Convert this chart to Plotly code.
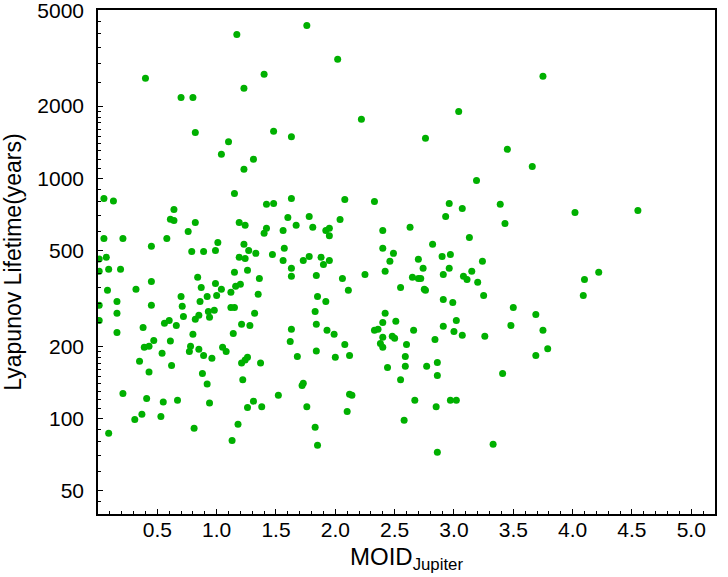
import numpy as np
import plotly.graph_objects as go

# MOID with Jupiter (au) and Lyapunov lifetime (years)
moid_jupiter = [
    1.17, 0.40, 1.23, 0.70, 0.80, 0.82, 1.10, 1.04, 1.31, 1.23,
    1.76, 2.02, 1.40, 2.22, 1.48, 1.63, 3.75, 3.04, 2.76, 3.45,
    3.66, 3.19, 0.05, 0.13, 1.15, 0.64, 0.61, 0.64, 0.82, 1.19,
    1.24, 0.76, 0.05, 0.21, 0.58, 0.45, 1.01, 1.23, 0.79, 0.89,
    0.99, 1.27, 1.33, 0.01, 0.07, 1.19, 1.24, 0.01, 0.09, 0.19,
    1.15, 1.26, 0.84, 0.45, 0.87, 0.99, 1.04, 1.16, 1.20, 0.08,
    0.32, 1.12, 0.70, 0.92, 1.00, 0.16, 0.86, 0.01, 0.45, 0.71,
    1.12, 1.15, 0.93, 0.98, 0.94, 0.16, 0.72, 0.85, 0.82, 1.32,
    0.01, 0.56, 0.60, 0.66, 1.21, 1.28, 0.38, 0.16, 1.14, 0.80,
    0.47, 0.61, 0.39, 0.43, 0.78, 0.77, 0.85, 1.05, 1.08, 0.54,
    0.35, 0.89, 0.96, 0.62, 0.43, 0.88, 1.21, 1.24, 1.26, 0.92,
    1.22, 0.21, 0.41, 0.55, 0.67, 0.94, 1.31, 1.26, 0.37, 0.31,
    0.53, 1.18, 0.81, 0.09, 1.13, 1.63, 1.42, 1.48, 2.08, 2.33,
    1.60, 1.78, 1.67, 2.04, 1.42, 1.40, 1.56, 1.81, 1.92, 1.95,
    1.95, 2.40, 2.63, 1.47, 1.57, 1.56, 1.73, 1.78, 1.88, 1.95,
    1.90, 1.63, 1.63, 1.36, 1.84, 2.06, 2.25, 2.40, 2.49, 2.46,
    2.42, 2.55, 2.11, 1.35, 1.85, 1.92, 1.83, 1.63, 1.84, 1.93,
    1.99, 1.62, 2.08, 2.42, 2.40, 2.51, 2.33, 2.36, 2.40, 2.48,
    2.50, 2.38, 2.40, 2.60, 1.84, 1.37, 1.68, 2.00, 2.12, 2.59,
    2.59, 2.44, 2.55, 1.38, 1.52, 1.72, 1.73, 1.76, 1.83, 1.85,
    2.12, 2.14, 2.10, 2.58, 2.96, 3.07, 3.39, 2.93, 3.43, 3.13,
    2.82, 2.70, 2.90, 2.97, 3.24, 2.74, 2.96, 2.91, 3.15, 2.65,
    2.70, 2.72, 3.08, 3.11, 3.20, 2.75, 2.76, 3.25, 2.91, 2.99,
    3.50, 3.69, 3.02, 3.48, 2.66, 2.91, 3.00, 3.07, 3.26, 2.84,
    3.75, 3.79, 2.77, 2.86, 2.86, 3.41, 3.69, 2.67, 2.85, 2.97,
    3.02, 3.33, 2.86, 4.02, 4.55, 4.22, 4.10, 4.09,
]
lyapunov_lifetime = [
    3970, 2610, 2370, 2170, 2170, 1550, 1420, 1260, 1200, 1090,
    4330, 3130, 2710, 1760, 1570, 1490, 2660, 1900, 1470, 1320,
    1120, 980, 825, 804, 865, 742, 676, 668, 655, 655,
    637, 601, 562, 562, 562, 521, 541, 531, 496, 496,
    501, 501, 487, 461, 469, 469, 464, 410, 418, 418,
    406, 414, 387, 372, 351, 365, 345, 355, 362, 342,
    345, 335, 322, 322, 325, 307, 307, 296, 296, 293,
    290, 290, 279, 282, 264, 274, 266, 269, 259, 274,
    256, 249, 256, 244, 247, 244, 239, 228, 226, 224,
    211, 210, 198, 200, 200, 190, 194, 198, 190, 187,
    173, 183, 178, 166, 156, 154, 170, 175, 180, 139,
    145, 127, 121, 117, 119, 116, 118, 111, 104, 99,
    102, 94.5, 91, 86.7, 81, 825, 779, 786, 817, 801,
    687, 694, 637, 674, 619, 590, 607, 625, 607, 619,
    576, 607, 625, 482, 511, 455, 455, 473, 469, 455,
    438, 422, 391, 383, 394, 383, 398, 511, 487, 451,
    410, 351, 342, 329, 322, 307, 279, 235, 247, 233,
    224, 209, 203, 274, 251, 254, 233, 235, 218, 220,
    216, 205, 198, 203, 191, 170, 181, 180, 183, 181,
    165, 163, 145, 112, 125, 137, 140, 112, 91.8, 77.3,
    126, 125, 107, 98.2, 786, 749, 779, 694, 649, 567,
    531, 460, 473, 482, 451, 422, 422, 398, 410, 387,
    383, 383, 391, 379, 369, 345, 342, 325, 313, 304,
    290, 271, 256, 244, 233, 242, 230, 222, 220, 213,
    233, 195, 165, 171, 151, 154, 183, 119, 112, 119,
    119, 78, 72.3, 721, 735, 406, 379, 325,
]

x_ticks = [0.5, 1.0, 1.5, 2.0, 2.5, 3.0, 3.5, 4.0, 4.5, 5.0]
y_ticks = [50, 100, 200, 500, 1000, 2000, 5000]
y_minor = [45, 60, 70, 80, 90, 110, 120, 130, 140, 150, 160, 170, 180, 190,
           250, 300, 350, 400, 450, 600, 700, 800, 900,
           1100, 1200, 1300, 1400, 1500, 1600, 1700, 1800, 1900,
           2500, 3000, 3500, 4000, 4500]

FONT = "Liberation Sans, Arial, sans-serif"

fig = go.Figure()

fig.add_trace(go.Scatter(
    x=moid_jupiter,
    y=lyapunov_lifetime,
    mode='markers',
    marker=dict(color='#00B000', size=7),
    showlegend=False,
))

fig.update_layout(
    width=728,
    height=577,
    margin=dict(l=98, r=13, t=10, b=63),
    paper_bgcolor='white',
    plot_bgcolor='white',
    font=dict(family=FONT, size=21, color='black'),
)

fig.update_xaxes(
    range=[0, 5.2],
    automargin=False,
    tickmode='array',
    tickvals=x_ticks,
    ticktext=['%.1f' % v for v in x_ticks],
    ticks='inside',
    ticklen=5,
    tickcolor='black',
    ticklabelstandoff=-4,
    ticklabeloverflow='allow',
    showline=True,
    linecolor='black',
    linewidth=1.5,
    mirror=True,
    showgrid=False,
    zeroline=False,
    minor=dict(dtick=0.1, tick0=0, ticks='inside', ticklen=3, tickcolor='black', showgrid=False),
    title=dict(text='MOID<sub>Jupiter</sub>', standoff=8, font=dict(size=24)),
)

fig.update_yaxes(
    type='log',
    range=[np.log10(40), np.log10(5000) + 0.002],
    automargin=False,
    tickmode='array',
    tickvals=y_ticks,
    ticktext=[str(v) for v in y_ticks],
    ticks='inside',
    ticklen=5,
    tickcolor='black',
    ticklabelstandoff=8,
    ticklabeloverflow='allow',
    showline=True,
    linecolor='black',
    linewidth=1.5,
    mirror=True,
    showgrid=False,
    zeroline=False,
    minor=dict(tickmode='array', tickvals=y_minor, ticks='inside', ticklen=3,
               tickcolor='black', showgrid=False),
    title=dict(text='Lyapunov Lifetime(years)', standoff=14, font=dict(size=23)),
)

# the page's default body margin would shift the 728x577 figure by 8 px
fig.write_html("out.html", config={'displayModeBar': False},
               post_script="document.body.style.margin = '0px';")
